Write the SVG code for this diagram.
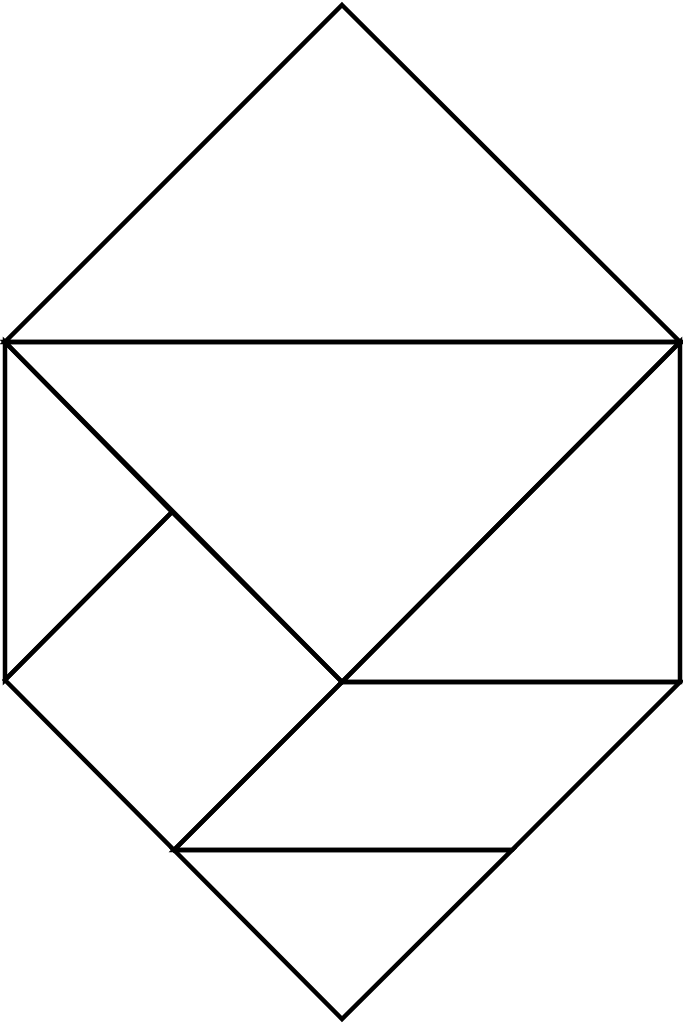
<svg xmlns="http://www.w3.org/2000/svg" width="683" height="1024" viewBox="0 0 683 1024">
<style>.p{fill:none;stroke:#000;stroke-width:4.5;stroke-linejoin:miter;stroke-linecap:butt}</style>
<rect width="683" height="1024" fill="#fff"/>
<g id="top-triangle"><polygon class="p" points="342,5 680,342 5,342"/></g>
<g id="mid-triangle"><polygon class="p" points="5,342 680,342 342,682"/></g>
<g id="right-triangle"><polygon class="p" points="680,342 680,682 342,682"/></g>
<g id="left-triangle"><polygon class="p" points="5,342 172,512 5,680"/></g>
<g id="square"><polygon class="p" points="172,512 342,682 174,850 5,680"/></g>
<g id="parallelogram"><polygon class="p" points="342,682 680,682 512,850 174,850"/></g>
<g id="bottom-triangle"><polygon class="p" points="174,850 512,850 342,1019"/></g>
</svg>
